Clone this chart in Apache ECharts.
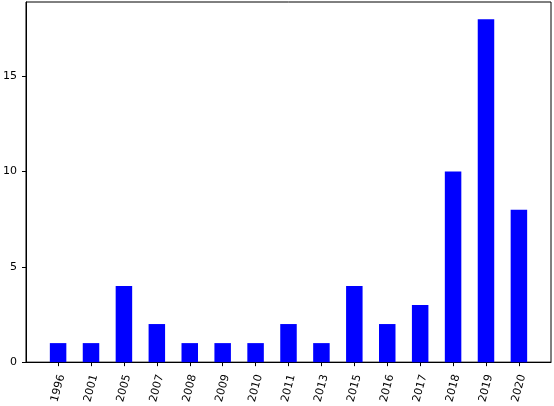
<!DOCTYPE html>
<html>
<head>
<meta charset="utf-8">
<script src="https://cdn.jsdelivr.net/npm/echarts@6/dist/echarts.min.js"></script>
<style>
html,body{margin:0;padding:0;background:#fff;}
#chart{width:554px;height:406px;}
</style>
</head>
<body>
<div id="chart"></div>
<script>
const categories = ['1996','2001','2005','2007','2008','2009','2010','2011','2013','2015','2016','2017','2018','2019','2020'];
const counts = [1, 1, 4, 2, 1, 1, 1, 2, 1, 4, 2, 3, 10, 18, 8];
const yTicks = [0, 5, 10, 15];

const positions = categories.map((c, i) => i);
const barData = counts.map((v, i) => [positions[i], v]);

const chart = echarts.init(document.getElementById('chart'), null, {renderer: 'canvas'});
const font = 'DejaVu Sans';
chart.setOption({
  animation: false,
  backgroundColor: '#ffffff',
  grid: {
    left: 25, right: 3, top: 2, bottom: 42,
    show: true, borderColor: '#000', borderWidth: 1, backgroundColor: 'transparent',
    containLabel: false
  },
  xAxis: {
    type: 'value',
    min: -0.975, max: 14.975,
    axisLine: {show: true, onZero: false, lineStyle: {color: '#000', width: 1}},
    axisTick: {show: true, length: 4, lineStyle: {color: '#000', width: 1}, customValues: positions},
    splitLine: {show: false},
    axisLabel: {
      customValues: positions,
      formatter: v => categories[Math.round(v)],
      rotate: 75,
      align: 'center',
      verticalAlign: 'middle',
      margin: 26,
      fontFamily: font, fontSize: 11, color: '#000'
    }
  },
  yAxis: {
    type: 'value',
    min: 0, max: 18.9,
    axisLine: {show: true, onZero: false, lineStyle: {color: '#000', width: 1}},
    axisTick: {show: true, length: 4, lineStyle: {color: '#000', width: 1}, customValues: yTicks},
    splitLine: {show: false},
    axisLabel: {
      customValues: yTicks,
      margin: 9,
      fontFamily: font, fontSize: 11, color: '#000'
    }
  },
  series: [{
    type: 'bar',
    data: barData,
    barWidth: 16.5,
    itemStyle: {color: '#0000ff'}
  }]
});
</script>
</body>
</html>
